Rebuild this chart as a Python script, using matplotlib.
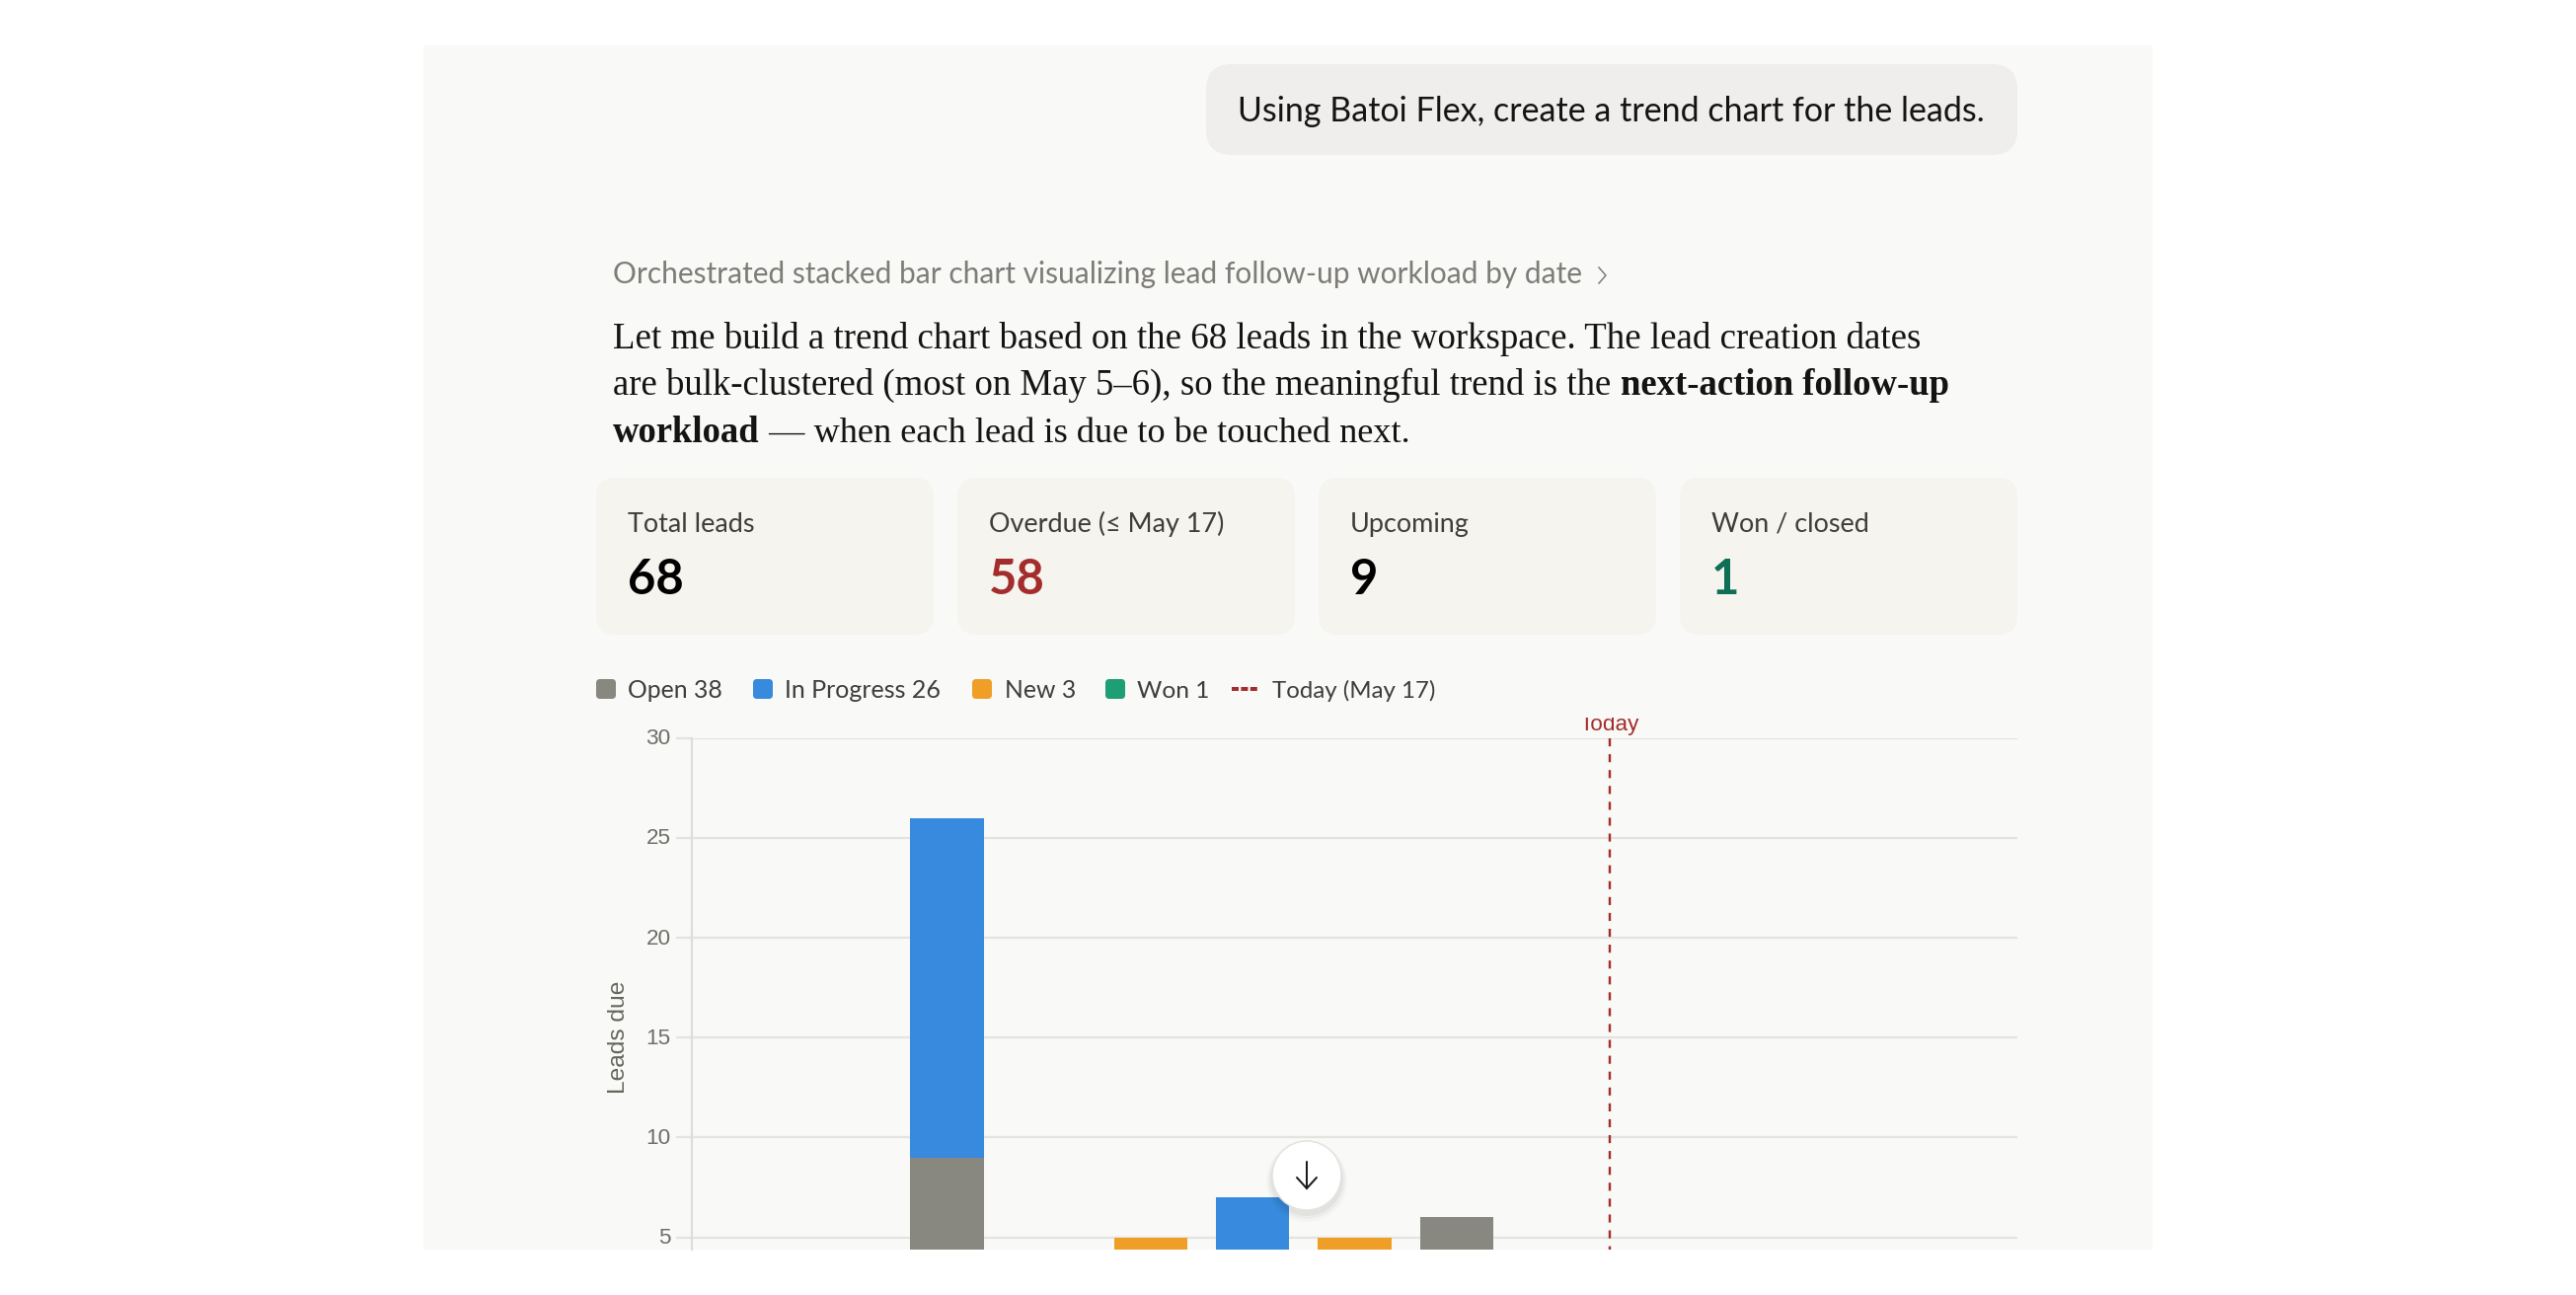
import matplotlib
matplotlib.use("Agg")
import matplotlib.pyplot as plt
from matplotlib.patches import FancyBboxPatch, Rectangle, Circle
from matplotlib.transforms import Bbox, ScaledTranslation

W, H = 2610, 1312
PX = 0.72  # points per pixel at dpi 100

# ---- data ----
slots = list(range(13))
open_vals = [0, 0, 9, 0, 3, 3, 4, 6, 0, 0, 0, 0, 0]
progress_vals = [0, 0, 17, 0, 0, 4, 0, 0, 0, 0, 0, 0, 0]
new_vals = [0, 0, 0, 0, 2, 0, 1, 0, 0, 0, 0, 0, 0]
today_pos = 8.5
y_ticks = [5, 10, 15, 20, 25, 30]
legend_items = [("Open 38", "#888780"), ("In Progress 26", "#378ADD"), ("New 3", "#EF9F27"), ("Won 1", "#1D9E75")]
cards = [("Total leads", "68", "#000000"), ("Overdue (≤ May 17)", "58", "#A32D2D"),
         ("Upcoming", "9", "#000000"), ("Won / closed", "1", "#0F6E56")]
prompt = "Using Batoi Flex, create a trend chart for the leads."
thought = "Orchestrated stacked bar chart visualizing lead follow-up workload by date"

SANS = ["Lato", "DejaVu Sans"]
SERIF = "Liberation Serif"
CHART = "Liberation Sans"

fig = plt.figure(figsize=(W / 100, H / 100), dpi=100, facecolor="white")

def px_axes(z):
    a = fig.add_axes([0, 0, 1, 1], zorder=z)
    a.set_xlim(0, W); a.set_ylim(H, 0); a.axis("off"); a.patch.set_alpha(0)
    return a

bg = px_axes(0)
fg = px_axes(2)

def rrect(a, x0, y0, x1, y1, r, **kw):
    a.add_patch(FancyBboxPatch((x0 + r, y0 + r), x1 - x0 - 2 * r, y1 - y0 - 2 * r,
                               boxstyle=f"round,pad={r},rounding_size={r}", linewidth=0, **kw))

def txt(a, x, y, s, px, **kw):
    return a.text(x, y, s, fontsize=px * PX, va="baseline", ha=kw.pop("ha", "left"), **kw)

# panel
bg.add_patch(Rectangle((429, 46), 1752, 1220, fc="#F9F9F7", lw=0))

# prompt bubble
rrect(bg, 1222, 65, 2044, 157, 26, fc="#EFEEEC")
txt(bg, 1254, 123, prompt, 33.95, family=SANS, color="#141413")

# thought line
txt(bg, 621, 287, thought, 29.9, family=SANS, color="#7D7C77")
bg.plot([1620, 1627, 1620], [271, 279, 287], color="#7D7C77", lw=1.1)

# paragraph
renderer = fig.canvas.get_renderer()
def run(y, parts, x=621):
    for s, w, px in parts:
        t = txt(bg, x, y, s, px, family=SERIF, color="#141413", weight=w)
        x = t.get_window_extent(renderer).x1
run(353, [("Let me build a trend chart based on the 68 leads in the workspace. The lead creation dates", "normal", 36.9)])
run(400, [("are bulk-clustered (most on May 5–6), so the meaningful trend is the ", "normal", 36.8),
          ("next-action follow-up", "bold", 36.6)])
run(448, [("workload", "bold", 36.6), (" — when each lead is due to be touched next.", "normal", 36.2)])

# cards
card_x = [(604, 946), (970, 1312), (1336, 1678), (1702, 2044)]
for (x0, x1), (lab, val, col) in zip(card_x, cards):
    rrect(bg, x0, 484, x1, 643, 20, fc="#F5F4EE")
    txt(bg, x0 + 32, 539, lab, 27, family=SANS, color="#3D3D3A")
    txt(bg, x0 + 32, 602, val, 49, family=SANS, color=col, weight="bold")

# legend
leg_x = [(604, 636, 24.7), (763, 795, 25), (985, 1017.5, 24.7), (1120, 1152, 24.5)]
for (sx, tx, fs), (lab, col) in zip(leg_x, legend_items):
    rrect(bg, sx, 688, sx + 20, 708, 4, fc=col)
    txt(bg, tx, 707, lab, fs, family=SANS, color="#3D3D3A")
bg.plot([1248, 1276], [698, 698], color="#A32D2D", lw=4 * PX, ls=(0, (1.75, 0.6)), solid_capstyle="butt", dash_capstyle="butt")
txt(bg, 1289, 707, "Today (May 17)", 24, family=SANS, color="#3D3D3A")

# chart
ax = fig.add_axes([701 / W, 1 - 1266 / H, (2044 - 701) / W, (1266 - 747.6) / H], zorder=1)
ax.patch.set_alpha(0)
ax.set_xlim(-0.5, 12.5)
ax.set_ylim(4.39, 30)
BW = 0.722
ax.bar(slots, open_vals, BW, color="#888780", zorder=3, linewidth=0)
ax.bar(slots, progress_vals, BW, bottom=open_vals, color="#378ADD", zorder=3, linewidth=0)
ax.bar(slots, new_vals, BW, bottom=[a + b for a, b in zip(open_vals, progress_vals)], color="#EF9F27", zorder=3, linewidth=0)
ax.set_yticks(y_ticks)
ax.set_xticks([])
ax.grid(axis="y", color="#E4E3E0", lw=2.2 * PX, zorder=1)
ax.set_axisbelow(True)
for s in ("top", "right", "bottom"):
    ax.spines[s].set_visible(False)
ax.spines["left"].set_color("#DEDDDA")
ax.spines["left"].set_linewidth(2.2 * PX)
ax.tick_params(axis="y", length=16 * PX, width=2.2 * PX, color="#E4E3E0", labelcolor="#6E6D68",
               labelsize=22.5 * PX, pad=5.5 * PX)
shift = ScaledTranslation(0, 1.5 / 100, fig.dpi_scale_trans)
for l in ax.get_yticklabels():
    l.set_fontfamily(CHART)
    l.set_transform(l.get_transform() + shift)
ax.plot([today_pos, today_pos], [30, 4.39], color="#A32D2D", lw=2.4 * PX, ls=(0, (3.4, 3.3)),
        dash_capstyle="butt", zorder=4)
ax.set_ylabel("Leads due", fontsize=24.5 * PX, family=CHART, color="#66665F")
ax.yaxis.set_label_coords((627 - 701) / (2044 - 701), (1266 - 1051) / (1266 - 748))
ax.yaxis.label.set_va("center")

# Today label, cut by the canvas top
t = txt(fg, 1631, 740, "Today", 22.5, family=CHART, color="#A32D2D", ha="center")
t.set_clip_on(True)
t.set_clip_box(Bbox([[0, 0], [W, H - 727]]))

# scroll button
for dy, r, al in [(6, 41, .02), (5, 39, .03), (4, 37, .04)]:
    fg.add_patch(Circle((1324, 1191 + dy), r, fc="black", alpha=al, lw=0))
fg.add_patch(Circle((1324, 1191), 35, fc="white", ec="#E3E2DF", lw=1.5 * PX))
fg.plot([1324, 1324], [1177, 1204], color="#1A1A18", lw=2 * PX, solid_capstyle="round")
fg.plot([1314, 1324, 1334], [1193, 1204, 1193], color="#1A1A18", lw=2 * PX, solid_capstyle="round", solid_joinstyle="miter")

fig.savefig("out.png", dpi=100)
